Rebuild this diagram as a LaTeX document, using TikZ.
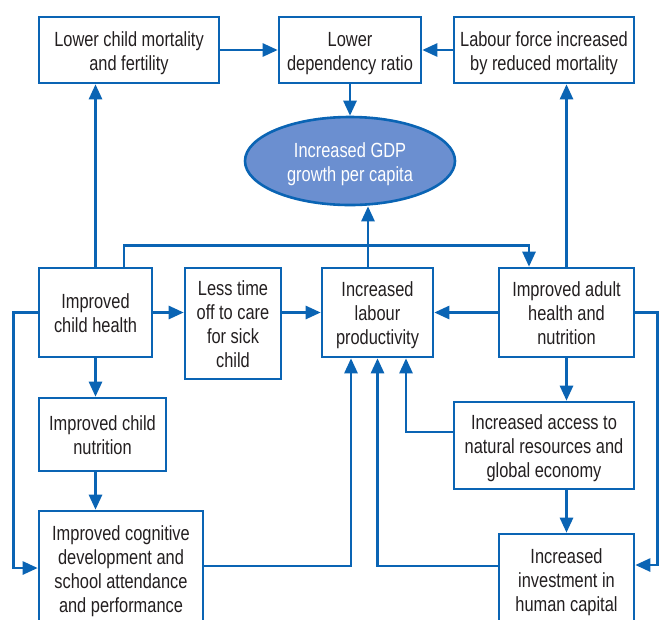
\documentclass[tikz,border=0pt]{standalone}
\usepackage{fontspec}
\setmainfont{Liberation Sans}[FakeStretch=0.8]
\usetikzlibrary{arrows.meta,shapes.geometric}
\definecolor{lineblue}{RGB}{10,100,180}
\definecolor{fillblue}{RGB}{107,143,208}
\definecolor{txt}{RGB}{35,31,32}
\newcommand{\mlines}[1]{\raisebox{-3.5pt}[\height][\depth]{\begin{tabular}{@{}c@{}}#1\end{tabular}}}
\tikzset{
  box/.style={draw=lineblue, line width=2.6pt, inner sep=0pt, align=center, text=txt,
    font=\fontsize{20.5}{24}\selectfont},
  conn/.style={draw=lineblue, line width=2.6pt},
  arr/.style={conn, -{Triangle[length=15pt,width=13pt]}},
}
\begin{document}
\begin{tikzpicture}[x=1pt,y=-1pt]
\useasboundingbox (0,0) rectangle (660,619);
\clip (0,0) rectangle (660,619);
\fill[white] (0,0) rectangle (660,619);
% nodes
\node[box, minimum width=180pt, minimum height=66pt] (lcm) at (129,50) {\mlines{Lower child mortality\\and fertility}};
\node[box, minimum width=142pt, minimum height=66pt] (ldr) at (350,50) {\mlines{Lower\\dependency ratio}};
\node[box, minimum width=180pt, minimum height=66pt] (lfr) at (544,50) {\mlines{Labour force increased\\by reduced mortality}};
\node[box, fill=fillblue, ellipse, minimum width=210pt, minimum height=88pt, text=white] (gdp) at (350,161) {\mlines{Increased GDP\\growth per capita}};
\node[box, minimum width=113pt, minimum height=89pt] (ich) at (95.5,312.5) {\mlines{Improved\\child health}};
\node[box, minimum width=96pt, minimum height=111pt] (ltc) at (233,323.5) {\mlines{Less time\\off to care\\for sick\\child}};
\node[box, minimum width=111pt, minimum height=89pt] (ilp) at (377.5,312.5) {\mlines{Increased\\labour\\productivity}};
\node[box, minimum width=135pt, minimum height=89pt] (iah) at (566.5,312.5) {\mlines{Improved adult\\health and\\nutrition}};
\node[box, minimum width=127pt, minimum height=73pt] (icn) at (102.5,434.5) {\mlines{Improved child\\nutrition}};
\node[box, minimum width=180pt, minimum height=87pt] (iar) at (544,445.5) {\mlines{Increased access to\\natural resources and\\global economy}};
\node[box, minimum width=164pt, minimum height=114pt] (icd) at (121,568) {\mlines{Improved cognitive\\development and\\school attendance\\and performance}};
\node[box, minimum width=135pt, minimum height=90pt] (ihc) at (566.5,579) {\mlines{Increased\\investment in\\human capital}};
% helper coordinates
\coordinate (ilpup) at ([xshift=-9.5pt]ilp.north);
\coordinate (ichtop) at ([xshift=28.5pt]ich.north);
\coordinate (iahin) at ([xshift=-37.5pt]iah.north);
\coordinate (ilpb1) at ([xshift=-26.5pt]ilp.south);
\coordinate (ilpb3) at ([xshift=28.5pt]ilp.south);
% connectors
\draw[arr] (lcm.east) -- (ldr.west);
\draw[arr] (lfr.west) -- (ldr.east);
\draw[arr] (ldr.south) -- (gdp.north);
\draw[arr] (ilpup) -- (ilpup |- gdp.south);
\draw[arr] (ich.north) -- (ich.north |- lcm.south);
\draw[arr] (ichtop) -- ++(0,-21) -| (iahin);
\draw[arr] (iah.north) -- (iah.north |- lfr.south);
\draw[arr] (ich.west) -- ++(-24,0) |- (icd.west);
\draw[arr] (ich.east) -- (ich.east -| ltc.west);
\draw[arr] (ilp.west -| ltc.east) -- (ilp.west);
\draw[arr] (iah.west) -- (ilp.east);
\draw[arr] (iah.east) -- ++(22,0) |- ([yshift=14pt]ihc.east);
\draw[arr] (iah.south) -- (iah.south |- iar.north);
\draw[arr] ([yshift=13.5pt]iar.west) -| (ilpb3);
\draw[arr] (ihc.north |- iar.south) -- (ihc.north);
\draw[arr] ([yshift=13pt]ihc.west) -| (ilp.south);
\draw[arr] ([yshift=2pt]icd.east) -| (ilpb1);
\draw[arr] (ich.south) -- (ich.south |- icn.north);
\draw[arr] (ich.south |- icn.south) -- (ich.south |- icd.north);
\end{tikzpicture}
\end{document}
